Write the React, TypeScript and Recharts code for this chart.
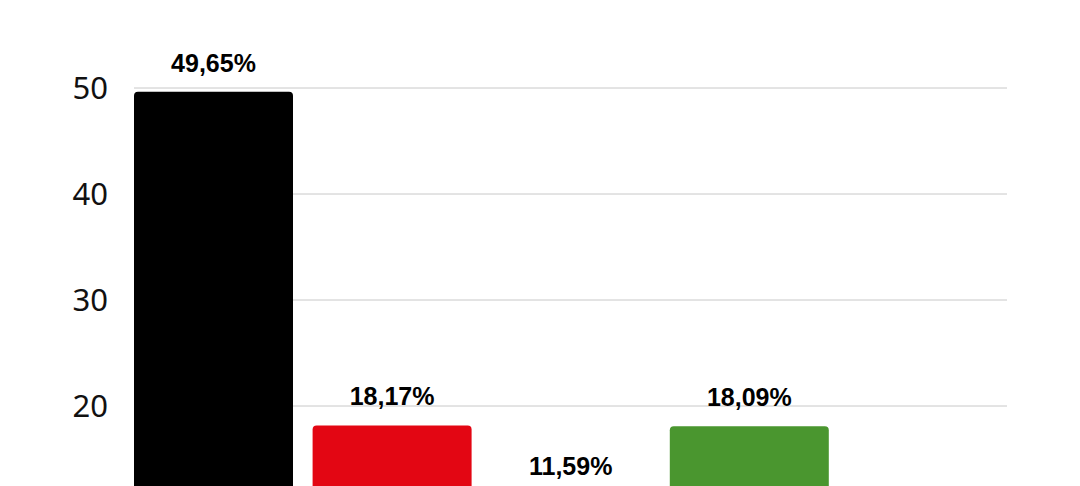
import React from 'react';
import { BarChart, Bar, XAxis, YAxis, CartesianGrid, LabelList, Cell } from 'recharts';

// candidate shares (%) – the last one is below the visible crop, estimated from the total
const candidates = ['Candidato 1', 'Candidato 2', 'Candidato 3', 'Candidato 4', 'Outros'];
const shares = [49.65, 18.17, 11.59, 18.09, 2.5];
const barColors = ['#000000', '#e30613', '#1f5fb4', '#4a962f', '#9e9e9e'];
const yTicks = [0, 10, 20, 30, 40, 50];

const data = candidates.map((name, i) => ({ name, share: shares[i] }));

const formatShare = (v: number) => v.toFixed(2).replace('.', ',') + '%';

export default function App() {
  return (
    <BarChart
      width={1064}
      height={660}
      data={data}
      margin={{ top: 80, right: 65, bottom: 10, left: 0 }}
      barCategoryGap={10}
    >
      <CartesianGrid vertical={false} stroke="#c8c8c8" />
      <XAxis
        dataKey="name"
        height={40}
        tick={false}
        axisLine={false}
        tickLine={false}
        padding={{ left: -10, right: -10 }}
      />
      <YAxis
        width={126}
        domain={[0, 50]}
        ticks={yTicks}
        axisLine={false}
        tickLine={false}
        tickSize={0}
        tickMargin={26}
        tick={{ fill: '#111', fontSize: 31, fontFamily: 'Noto Sans' }}
      />
      <Bar dataKey="share" radius={[4, 4, 0, 0]} isAnimationActive={false}>
        {data.map((d, i) => (
          <Cell key={d.name} fill={barColors[i]} />
        ))}
        <LabelList
          dataKey="share"
          position="top"
          offset={20}
          formatter={(v: any) => formatShare(Number(v))}
          style={{ fill: '#000', fontSize: 25, fontWeight: 700, fontFamily: 'Liberation Sans, Arial, sans-serif' }}
        />
      </Bar>
    </BarChart>
  );
}
